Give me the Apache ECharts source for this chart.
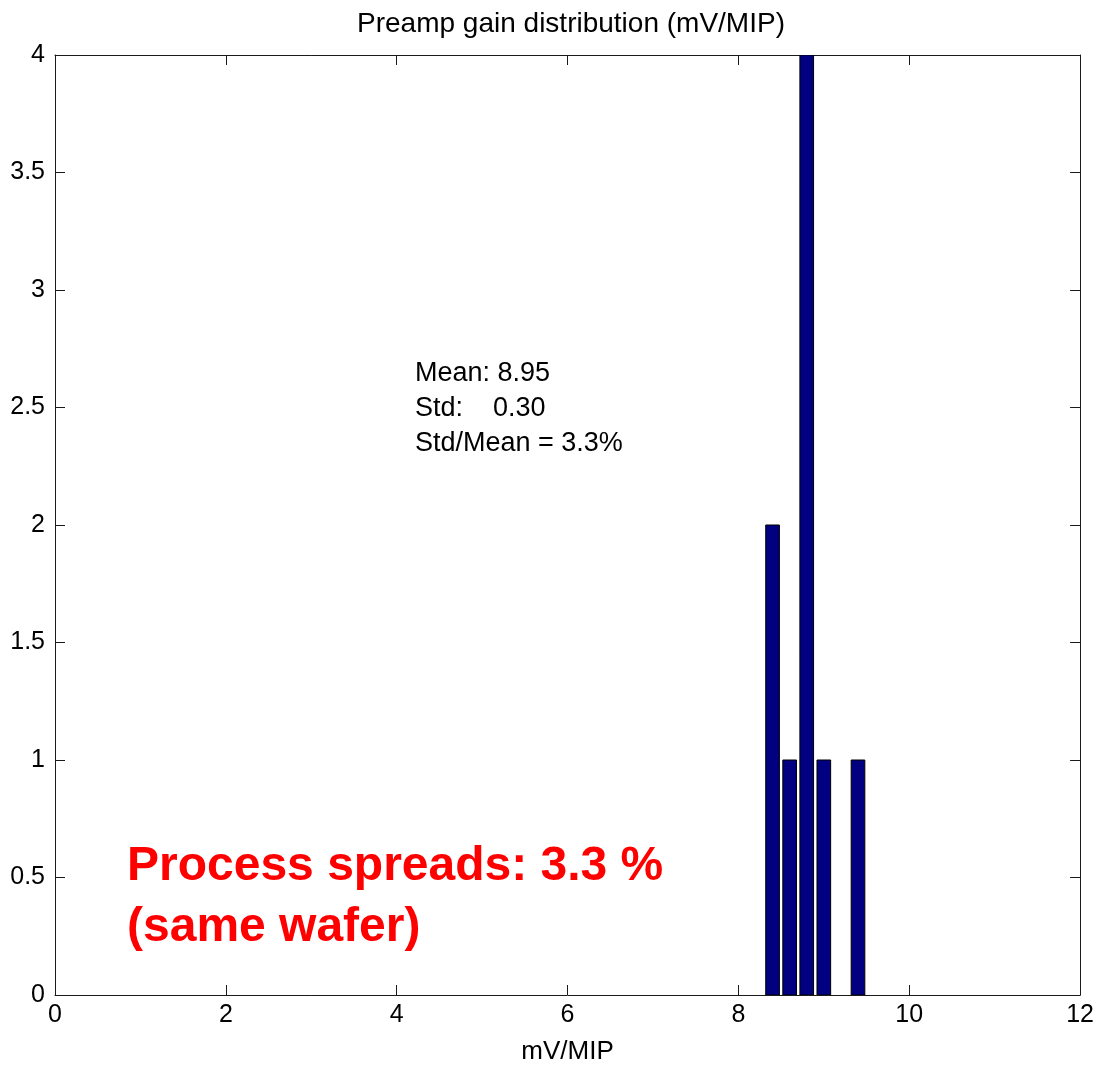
<!DOCTYPE html>
<html>
<head>
<meta charset="utf-8">
<title>Preamp gain distribution</title>
<script src="https://cdn.jsdelivr.net/npm/echarts@6/dist/echarts.min.js"></script>
<style>
  html, body { margin: 0; padding: 0; background: #fff; }
  #chart { width: 1097px; height: 1073px; }
</style>
</head>
<body>
<div id="chart"></div>
<script>
// Histogram bin centres (mV/MIP) and the number of chips in each bin
const binCenters = [8.4, 8.6, 8.8, 9.0, 9.2, 9.4];
const binCounts  = [2, 1, 4, 1, 0, 1];
const binWidth = 0.2;       // spacing between bin centres
const barFraction = 0.8;    // drawn bar width as a share of the bin

const xTicks = { min: 0, max: 12, interval: 2 };
const yTicks = { min: 0, max: 4, interval: 0.5 };

const statsLines = ['Mean: 8.95', 'Std:    0.30', 'Std/Mean = 3.3%'];
const noteLines = ['Process spreads: 3.3 %', '(same wafer)'];

const FONT = '"Liberation Sans", Arial, sans-serif';
const AXIS_COLOR = '#1a1a1a';

const chart = echarts.init(document.getElementById('chart'), null, { renderer: 'canvas' });

const data = binCenters.map((c, i) => [c, binCounts[i]]);

function plainAxis(extra) {
  return Object.assign({
    type: 'value',
    axisLine: { show: true, onZero: false, lineStyle: { color: AXIS_COLOR, width: 1 } },
    axisTick: { show: true, inside: true, length: 10, lineStyle: { color: AXIS_COLOR, width: 1 } },
    splitLine: { show: false },
    axisLabel: { show: false }
  }, extra);
}

const option = {
  backgroundColor: '#ffffff',
  animation: false,
  title: {
    text: 'Preamp gain distribution (mV/MIP)',
    left: 566,
    top: 5,
    textAlign: 'center',
    textStyle: { fontFamily: FONT, fontSize: 28, fontWeight: 'normal', color: '#000' }
  },
  grid: { left: 55, right: 16, top: 55, bottom: 78, containLabel: false },
  xAxis: [
    plainAxis(Object.assign({}, xTicks, {
      position: 'bottom',
      name: 'mV/MIP',
      nameLocation: 'middle',
      nameGap: 44,
      nameTextStyle: { fontFamily: FONT, fontSize: 26, color: '#000' },
      axisLabel: { show: true, margin: 8, fontFamily: FONT, fontSize: 25, color: '#000' }
    })),
    plainAxis(Object.assign({}, xTicks, { position: 'top' }))
  ],
  yAxis: [
    plainAxis(Object.assign({}, yTicks, {
      position: 'left',
      axisLabel: { show: true, margin: 10, fontFamily: FONT, fontSize: 25, color: '#000' }
    })),
    plainAxis(Object.assign({}, yTicks, { position: 'right' }))
  ],
  series: [{
    type: 'custom',
    xAxisIndex: 0,
    yAxisIndex: 0,
    data: data,
    clip: true,
    renderItem: function (params, api) {
      const x = api.value(0);
      const y = api.value(1);
      if (!y) return null;
      const half = binWidth * barFraction / 2;
      const p0 = api.coord([x - half, y]);
      const p1 = api.coord([x + half, 0]);
      return {
        type: 'rect',
        shape: { x: p0[0], y: p0[1], width: p1[0] - p0[0], height: p1[1] - p0[1] },
        style: { fill: '#000080', stroke: '#000', lineWidth: 1 }
      };
    },
    encode: { x: 0, y: 1 }
  }],
  graphic: [
    {
      type: 'text',
      left: 415,
      top: 356,
      style: {
        text: statsLines.join('\n'),
        fontFamily: FONT,
        fontSize: 27,
        lineHeight: 35,
        fill: '#000'
      }
    },
    {
      type: 'text',
      left: 127,
      top: 836,
      style: {
        text: noteLines.join('\n'),
        fontFamily: FONT,
        fontSize: 48,
        fontWeight: 'bold',
        lineHeight: 61,
        fill: '#ff0000'
      }
    }
  ]
};

chart.setOption(option);
</script>
</body>
</html>
